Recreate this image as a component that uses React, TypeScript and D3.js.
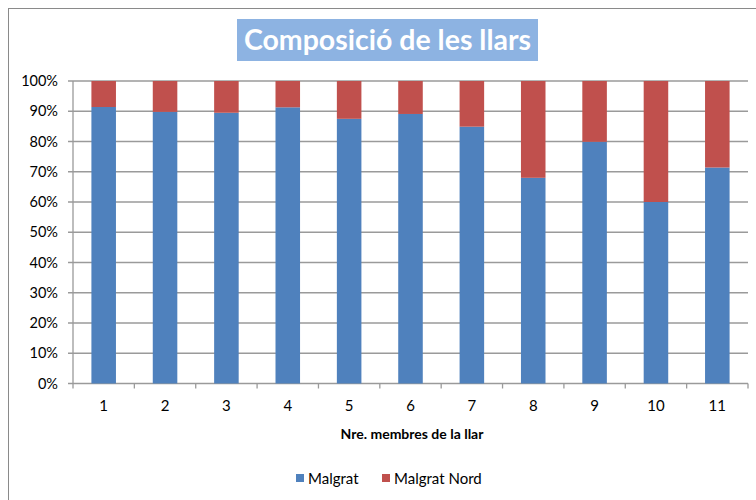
import * as d3 from "d3";
import { useEffect, useRef } from "react";

const categories = ["1", "2", "3", "4", "5", "6", "7", "8", "9", "10", "11"];
const seriesNames = ["Malgrat", "Malgrat Nord"];
// share of households in Malgrat (%), the rest is Malgrat Nord
const malgrat = [91.4, 89.8, 89.5, 91.3, 87.5, 89.1, 84.9, 68.0, 79.9, 60.0, 71.4];
const yTicks = [0, 0.1, 0.2, 0.3, 0.4, 0.5, 0.6, 0.7, 0.8, 0.9, 1];
const title = "Composició de les llars";
const xTitle = "Nre. membres de la llar";

const colors = ["#4F81BD", "#C0504D"];
const font = "Lato, 'Open Sans', sans-serif";

export default function App() {
    const ref = useRef<SVGSVGElement>(null);

    const width = 756,
        height = 500;

    useEffect(() => {
        const svg = d3.select(ref.current);
        svg.selectAll("*").remove();

        const rows = categories.map((c, i) => ({
            cat: c,
            "Malgrat": malgrat[i] / 100,
            "Malgrat Nord": 1 - malgrat[i] / 100,
        }));

        const x = d3.scaleBand()
            .domain(categories)
            .range([73, 748])
            .paddingInner(0.6)
            .paddingOuter(0.3);

        const y = d3.scaleLinear()
            .domain([0, 1])
            .range([383.5, 81]);

        // outer chart frame
        svg.append("rect")
            .attr("x", 8.5)
            .attr("y", 8.5)
            .attr("width", 800)
            .attr("height", 600)
            .attr("fill", "white")
            .attr("stroke", "#8a8a8a")
            .attr("stroke-width", 1);

        // gridlines
        svg.append("g")
            .selectAll("line")
            .data(yTicks)
            .join("line")
            .attr("x1", 68)
            .attr("x2", 748)
            .attr("y1", d => y(d))
            .attr("y2", d => y(d))
            .attr("stroke", "#9a9a9a")
            .attr("stroke-width", 1.3);

        // y labels
        svg.append("g")
            .selectAll("text")
            .data(yTicks)
            .join("text")
            .attr("x", 58)
            .attr("y", d => y(d))
            .attr("dy", "0.35em")
            .attr("text-anchor", "end")
            .style("font-family", font)
            .style("font-size", "14.5px")
            .attr("fill", "#000")
            .text(d => d3.format(".0%")(d));

        // stacked bars
        const stack = d3.stack<any>().keys(seriesNames)(rows);
        svg.append("g")
            .selectAll("g")
            .data(stack)
            .join("g")
            .attr("fill", (_d, i) => colors[i])
            .selectAll("rect")
            .data(d => d)
            .join("rect")
            .attr("x", d => x(d.data.cat)!)
            .attr("width", x.bandwidth())
            .attr("y", d => y(d[1]))
            .attr("height", d => y(d[0]) - y(d[1]));

        // axes lines
        svg.append("line")
            .attr("x1", 73).attr("x2", 73)
            .attr("y1", y(1)).attr("y2", y(0))
            .attr("stroke", "#9a9a9a")
            .attr("stroke-width", 1.3);

        const step = x.step();
        svg.append("g")
            .selectAll("line")
            .data(d3.range(categories.length + 1))
            .join("line")
            .attr("x1", i => 73 + i * step)
            .attr("x2", i => 73 + i * step)
            .attr("y1", y(0))
            .attr("y2", y(0) + 5)
            .attr("stroke", "#9a9a9a")
            .attr("stroke-width", 1.3);

        // x labels
        svg.append("g")
            .selectAll("text")
            .data(categories)
            .join("text")
            .attr("x", d => x(d)! + x.bandwidth() / 2)
            .attr("y", 411)
            .attr("text-anchor", "middle")
            .style("font-family", font)
            .style("font-size", "15px")
            .text(d => d);

        svg.append("text")
            .attr("x", 412)
            .attr("y", 439)
            .attr("text-anchor", "middle")
            .style("font-family", font)
            .style("font-size", "14px")
            .style("font-weight", "bold")
            .text(xTitle);

        // title
        svg.append("rect")
            .attr("x", 237)
            .attr("y", 19)
            .attr("width", 301)
            .attr("height", 42)
            .attr("fill", "#8DB3E2");

        svg.append("text")
            .attr("x", 387.5)
            .attr("y", 49.5)
            .attr("text-anchor", "middle")
            .style("font-family", font)
            .style("font-size", "28.5px")
            .style("font-weight", "bold")
            .attr("fill", "white")
            .text(title);

        // legend
        const legendX = [296, 382];
        const lg = svg.append("g")
            .selectAll("g")
            .data(seriesNames)
            .join("g")
            .attr("transform", (_d, i) => `translate(${legendX[i]}, 474)`);

        lg.append("rect")
            .attr("width", 8)
            .attr("height", 8)
            .attr("fill", (_d, i) => colors[i]);

        lg.append("text")
            .attr("x", 12)
            .attr("y", 9.5)
            .style("font-family", font)
            .style("font-size", "15px")
            .text(d => d);
    }, []);

    return (
        <div>
            <svg ref={ref} width={width} height={height}
                style={{ position: "absolute", left: 0, top: 0 }}>
            </svg>
        </div>
    );
}
